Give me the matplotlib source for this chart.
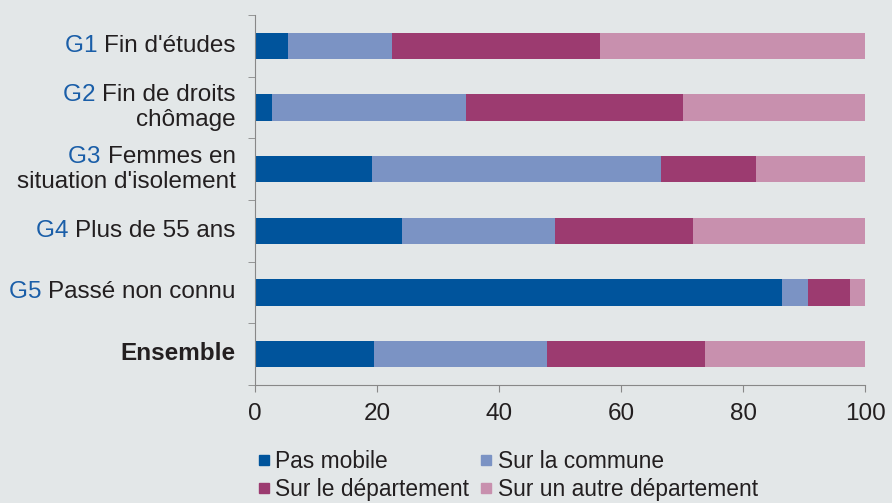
import numpy as np
import matplotlib
matplotlib.use("Agg")
import matplotlib.pyplot as plt
from matplotlib.lines import Line2D
from matplotlib.offsetbox import TextArea, HPacker, VPacker, AnnotationBbox

plt.rcParams['font.family'] = ['Liberation Sans', 'DejaVu Sans']

# groups (prefix in blue, rest of the label in grey)
prefixes = ["G1", "G2", "G3", "G4", "G5", ""]
labels = [["Fin d'études"],
          ["Fin de droits", "chômage"],
          ["Femmes en", "situation d'isolement"],
          ["Plus de 55 ans"],
          ["Passé non connu"],
          ["Ensemble"]]

series = ["Pas mobile", "Sur la commune", "Sur le département", "Sur un autre département"]
pas_mobile = [5.4, 2.8, 19.2, 24.1, 86.4, 19.5]
commune = [17.1, 31.8, 47.4, 25.1, 4.2, 28.4]
departement = [34.1, 35.6, 15.5, 22.6, 6.9, 25.8]
autre_dep = [43.4, 29.8, 17.9, 28.2, 2.5, 26.3]

colors = ["#00549c", "#7b93c4", "#9c3b70", "#c890ae"]
bg = "#e3e7e8"
blue_txt = "#1a5ea8"
grey_txt = "#231f20"

fig = plt.figure(figsize=(8.92, 5.03), dpi=100, facecolor=bg)
ax = fig.add_axes([0.286, 0.235, 0.684, 0.735])
ax.set_facecolor(bg)

y = np.arange(len(prefixes))
left = np.zeros(len(y))
for vals, col, name in zip([pas_mobile, commune, departement, autre_dep], colors, series):
    ax.barh(y, vals, left=left, height=0.43, color=col, label=name)
    left += np.array(vals)

ax.set_xlim(0, 100)
ax.set_ylim(5.5, -0.5)
ax.set_xticks(range(0, 101, 20))
ax.tick_params(axis='x', labelsize=17.5, length=5, color="#888888", labelcolor=grey_txt, pad=8)
ax.set_yticks(y)
ax.set_yticklabels([])
ax.tick_params(axis='y', which='major', length=0)
ax.set_yticks(np.arange(-0.5, 6, 1), minor=True)
ax.tick_params(axis='y', which='minor', length=5, color="#888888")
for s in ['top', 'right']:
    ax.spines[s].set_visible(False)
for s in ['left', 'bottom']:
    ax.spines[s].set_color("#888888")

# two-colour category labels
fs = 17.5
for i, (pre, lines) in enumerate(zip(prefixes, labels)):
    bold = (pre == "")
    first = [TextArea(lines[0], textprops=dict(color=grey_txt, fontsize=fs,
                                                fontweight='bold' if bold else 'normal'))]
    if pre:
        first = [TextArea(pre + " ", textprops=dict(color=blue_txt, fontsize=fs))] + first
    rows = [HPacker(children=first, pad=0, sep=0)]
    for ln in lines[1:]:
        rows.append(TextArea(ln, textprops=dict(color=grey_txt, fontsize=fs)))
    box = VPacker(children=rows, align="right", pad=0, sep=2) if len(rows) > 1 else rows[0]
    ab = AnnotationBbox(box, xy=(0, i), xycoords=('axes fraction', 'data'),
                        xybox=(-14, 0), boxcoords='offset points',
                        box_alignment=(1, 0.5), frameon=False, annotation_clip=False)
    ax.add_artist(ab)

handles = [Line2D([], [], marker='s', linestyle='none', markersize=7.5, color=c) for c in colors]
order = [0, 2, 1, 3]
leg = fig.legend([handles[k] for k in order], [series[k] for k in order],
                 ncol=2, loc='upper left', bbox_to_anchor=(0.288, 0.106),
                 frameon=False, fontsize=16.4, handlelength=0.6, handletextpad=0.2,
                 columnspacing=0.45, labelspacing=0.22, borderpad=0, borderaxespad=0)
for t in leg.get_texts():
    t.set_color(grey_txt)

fig.savefig("out.png", dpi=100, facecolor=bg)
